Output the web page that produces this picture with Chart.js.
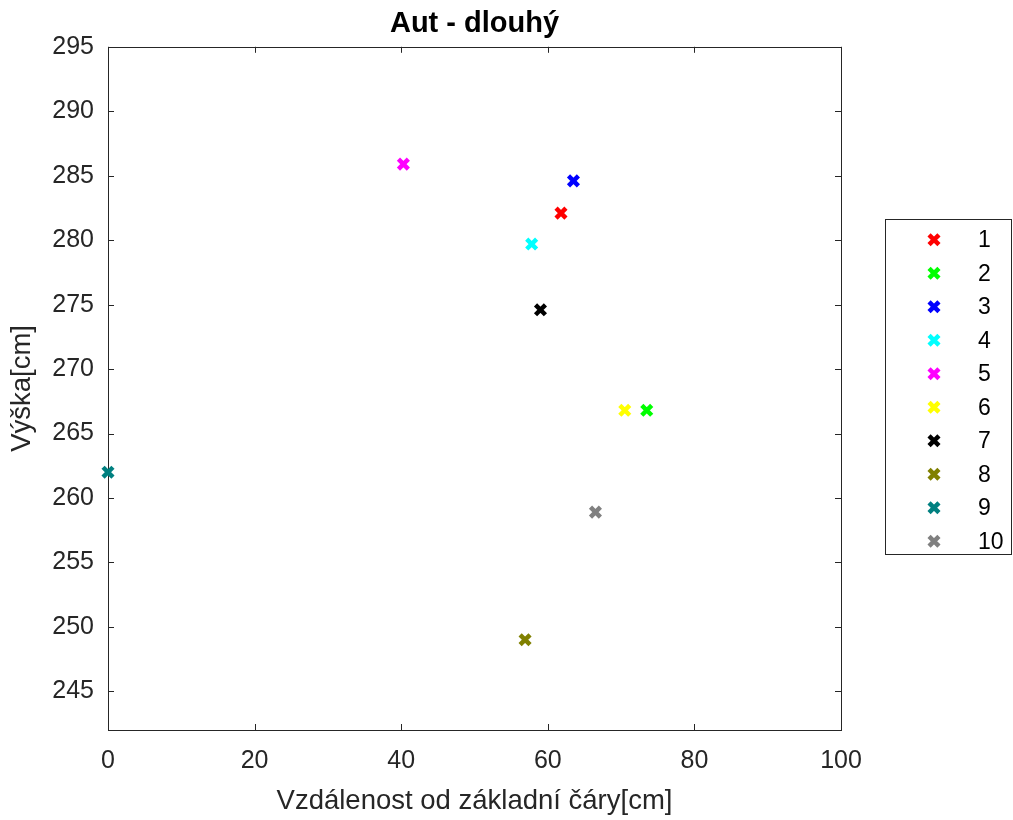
<!DOCTYPE html>
<html>
<head>
<meta charset="utf-8">
<title>Aut - dlouhý</title>
<script src="https://cdn.jsdelivr.net/npm/chart.js@4.4.0/dist/chart.umd.min.js"></script>
<style>
  html, body { margin: 0; padding: 0; background: #fff; }
  #wrap { width: 1013px; height: 820px; }
</style>
</head>
<body>
<div id="wrap"><canvas id="chart" width="1013" height="820"></canvas></div>
<script>
// one marker per measurement, each its own legend entry
const seriesNames = ["1", "2", "3", "4", "5", "6", "7", "8", "9", "10"];
const distances = [61.8, 73.5, 63.5, 57.8, 40.3, 70.5, 59.0, 56.9, 0, 66.5];
const heights = [282.1, 266.8, 284.6, 279.7, 285.9, 266.8, 274.6, 249.0, 262.0, 258.9];
const markerColors = ["#ff0000", "#00ff00", "#0000ff", "#00ffff", "#ff00ff", "#ffff00", "#000000", "#808000", "#008080", "#808080"];

const xTicks = [0, 20, 40, 60, 80, 100];
const yTicks = [245, 250, 255, 260, 265, 270, 275, 280, 285, 290, 295];
const xRange = [0, 100];
const yRange = [242, 295];

const FONT = "'Liberation Sans', Helvetica, Arial, sans-serif";
const AXIS_COLOR = "#262626";
const TICK_LEN = 6;

// box around the plot with inward tick marks on all four sides
const axesFrame = {
  id: "axesFrame",
  beforeDatasetsDraw(chart) {
    const { ctx, chartArea: a, scales } = chart;
    ctx.save();
    ctx.strokeStyle = AXIS_COLOR;
    ctx.lineWidth = 1;
    ctx.beginPath();
    scales.x.ticks.forEach(t => {
      const px = Math.round(scales.x.getPixelForValue(t.value)) + 0.5;
      ctx.moveTo(px, a.bottom); ctx.lineTo(px, a.bottom - TICK_LEN);
      ctx.moveTo(px, a.top); ctx.lineTo(px, a.top + TICK_LEN);
    });
    scales.y.ticks.forEach(t => {
      const py = Math.round(scales.y.getPixelForValue(t.value)) + 0.5;
      ctx.moveTo(a.left, py); ctx.lineTo(a.left + TICK_LEN, py);
      ctx.moveTo(a.right, py); ctx.lineTo(a.right - TICK_LEN, py);
    });
    ctx.stroke();
    ctx.strokeRect(Math.round(a.left) + 0.5, Math.round(a.top) + 0.5,
      Math.round(a.right - a.left), Math.round(a.bottom - a.top));
    ctx.restore();
  }
};

// legend box to the right of the axes
const sideLegend = {
  id: "sideLegend",
  afterDraw(chart) {
    const { ctx } = chart;
    const box = { left: 885, top: 219, right: 1011, bottom: 554 };
    const rowStep = (box.bottom - box.top) / chart.data.datasets.length;
    ctx.save();
    ctx.fillStyle = "#fff";
    ctx.fillRect(box.left, box.top, box.right - box.left, box.bottom - box.top);
    ctx.strokeStyle = AXIS_COLOR;
    ctx.lineWidth = 1;
    ctx.strokeRect(box.left + 0.5, box.top + 0.5, box.right - box.left, box.bottom - box.top);
    ctx.font = "23px " + FONT;
    ctx.textBaseline = "middle";
    ctx.textAlign = "left";
    chart.data.datasets.forEach((ds, i) => {
      const y = box.top + rowStep * (i + 0.5) + 4;
      ctx.strokeStyle = ds.borderColor;
      ctx.fillStyle = ds.backgroundColor;
      ctx.lineWidth = ds.pointBorderWidth;
      Chart.helpers.drawPoint(ctx, {
        pointStyle: ds.pointStyle,
        radius: ds.pointRadius,
        rotation: 0,
        borderWidth: ds.pointBorderWidth
      }, 934, y);
      ctx.fillStyle = "#000";
      ctx.fillText(ds.label, 978, y + 1);
    });
    ctx.restore();
  }
};

const datasets = seriesNames.map((name, i) => ({
  label: name,
  data: [{ x: distances[i], y: heights[i] }],
  pointStyle: "crossRot",
  pointRadius: 7,
  pointHoverRadius: 7,
  pointBorderWidth: 4.5,
  borderColor: markerColors[i],
  backgroundColor: markerColors[i],
  clip: false
}));

new Chart(document.getElementById("chart"), {
  type: "scatter",
  data: { datasets },
  plugins: [axesFrame, sideLegend],
  options: {
    responsive: false,
    animation: false,
    events: [],
    layout: { padding: { left: 0, right: 172, top: 0, bottom: 0 } },
    plugins: {
      legend: { display: false },
      tooltip: { enabled: false },
      title: {
        display: true,
        text: "Aut - dlouhý",
        fullSize: false,
        color: "#000",
        font: { family: FONT, size: 29, weight: "bold", lineHeight: 1.2 },
        padding: { top: 7, bottom: 5 }
      }
    },
    scales: {
      x: {
        type: "linear",
        min: xRange[0],
        max: xRange[1],
        afterBuildTicks: s => { s.ticks = xTicks.map(v => ({ value: v })); },
        afterFit: s => { s.height = 90; },
        grid: { display: false, drawTicks: false },
        border: { display: false },
        ticks: {
          color: AXIS_COLOR,
          font: { family: FONT, size: 25 },
          padding: 16,
          maxRotation: 0
        },
        title: {
          display: true,
          text: "Vzdálenost od základní čáry[cm]",
          color: AXIS_COLOR,
          font: { family: FONT, size: 27.5, lineHeight: 1.2 },
          padding: { top: 0, bottom: 2 }
        }
      },
      y: {
        type: "linear",
        min: yRange[0],
        max: yRange[1],
        afterBuildTicks: s => { s.ticks = yTicks.map(v => ({ value: v })); },
        afterFit: s => { s.width = 108; },
        grid: { display: false, drawTicks: false },
        border: { display: false },
        ticks: {
          color: AXIS_COLOR,
          font: { family: FONT, size: 25 },
          padding: 14
        },
        title: {
          display: true,
          text: "Výška[cm]",
          color: AXIS_COLOR,
          font: { family: FONT, size: 27.5, lineHeight: 1.2 },
          padding: { top: 6, bottom: 0 }
        }
      }
    }
  }
});
</script>
</body>
</html>
